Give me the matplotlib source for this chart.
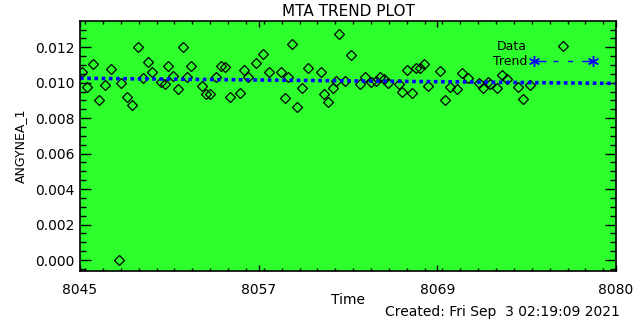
import numpy as np
import matplotlib
matplotlib.use('Agg')
import matplotlib.pyplot as plt
from matplotlib.ticker import FixedLocator, MultipleLocator

# data
time = [8045.15, 8045.48, 8045.87, 8046.26, 8046.65, 8047.04, 8047.57, 8047.70,
        8048.09, 8048.42, 8048.81, 8049.13, 8049.46, 8049.72, 8050.31, 8050.57,
        8050.77, 8051.09, 8051.42, 8051.75, 8052.01, 8052.27, 8052.99, 8053.25,
        8053.51, 8053.87, 8054.23, 8054.49, 8054.81, 8055.47, 8055.73, 8055.99,
        8056.51, 8056.97, 8057.36, 8058.14, 8058.41, 8058.60, 8058.86, 8059.19,
        8059.52, 8059.91, 8060.76, 8060.95, 8061.21, 8061.54, 8061.74, 8061.93,
        8062.32, 8062.68, 8063.30, 8063.63, 8064.02, 8064.35, 8064.61, 8064.87,
        8065.13, 8065.85, 8066.04, 8066.37, 8066.70, 8066.96, 8067.22, 8067.48,
        8067.74, 8068.53, 8068.85, 8069.18, 8069.64, 8069.96, 8070.36, 8071.07,
        8071.33, 8071.66, 8071.79, 8072.25, 8072.58, 8072.90, 8073.62, 8073.95,
        8074.40]
angynea = [0.01059, 0.00974, 0.01105, 0.00902, 0.00987, 0.01076, 0.00000, 0.00997,
           0.00918, 0.00873, 0.01200, 0.01025, 0.01115, 0.01059, 0.01002, 0.00991,
           0.01092, 0.01036, 0.00963, 0.01200, 0.01030, 0.01092, 0.00980, 0.00935,
           0.00935, 0.01030, 0.01092, 0.01087, 0.00918, 0.00940, 0.01070, 0.01030,
           0.01109, 0.01160, 0.01059, 0.01059, 0.00912, 0.01030, 0.01217, 0.00861,
           0.00968, 0.01081, 0.01059, 0.00935, 0.00889, 0.00968, 0.01008, 0.01273,
           0.01008, 0.01155, 0.00991, 0.01030, 0.01002, 0.01008, 0.01030, 0.01019,
           0.00997, 0.00991, 0.00946, 0.01070, 0.00940, 0.01081, 0.01081, 0.01104,
           0.00980, 0.01064, 0.00901, 0.00974, 0.00963, 0.01053, 0.01025, 0.00997,
           0.00968, 0.01002, 0.00991, 0.00968, 0.01042, 0.01019, 0.00974, 0.00906,
           0.00985]
trend_x = [8045, 8080]
trend_y = [0.01025, 0.00996]

xticks = [8045, 8045 + 35 / 3, 8045 + 70 / 3, 8080]
xtick_labels = ['8045', '8057', '8069', '8080']
yticks = [0.000, 0.002, 0.004, 0.006, 0.008, 0.010, 0.012]

green = '#2cff2c'

fig = plt.figure(figsize=(6.4, 3.2), dpi=100)
ax = fig.add_axes([80 / 640, 49 / 320, 536 / 640, 250 / 320])
ax.set_facecolor(green)

ax.plot(time, angynea, linestyle='none', marker='D', markersize=5.2,
        markerfacecolor='none', markeredgecolor='black', markeredgewidth=0.9)
ax.plot(trend_x, trend_y, color='blue', linestyle=(0, (1, 1)), linewidth=2.6)

ax.set_xlim(8045, 8080)
ax.set_ylim(-0.00062, 0.01348)

ax.xaxis.set_major_locator(FixedLocator(xticks))
ax.set_xticklabels(xtick_labels)
ax.xaxis.set_minor_locator(MultipleLocator(35 / 30))
ax.set_yticks(yticks)
ax.set_yticklabels([f'{v:.3f}' for v in yticks])
ax.yaxis.set_minor_locator(MultipleLocator(0.0005))

ax.tick_params(axis='y', which='major', direction='in', length=8, width=1,
               left=True, right=True, labelsize=10, pad=4)
ax.tick_params(axis='y', which='minor', direction='in', length=4.3, width=1,
               left=True, right=True)
ax.tick_params(axis='x', which='major', direction='in', length=4, width=1,
               top=True, bottom=True, labelsize=10, pad=9)
ax.tick_params(axis='x', which='minor', direction='in', length=2.2, width=1,
               top=True, bottom=True)
for s in ax.spines.values():
    s.set_linewidth(1.2)

ax.set_ylabel('ANGYNEA_1', fontsize=9, labelpad=6)
fig.text(348 / 640, 1 - 300 / 320, 'Time', fontsize=10, ha='center', va='center')
fig.text(620 / 640, 1 - 312 / 320, 'Created: Fri Sep  3 02:19:09 2021',
         fontsize=10, ha='right', va='center')
fig.text(348 / 640, 1 - 11 / 320, 'MTA TREND PLOT', fontsize=11,
         ha='center', va='center')

# legend drawn by hand like the IDL one
ax.text(0.834, 0.899, 'Data', transform=ax.transAxes, fontsize=9,
        ha='right', va='center')
ax.text(0.834, 0.839, 'Trend', transform=ax.transAxes, fontsize=9,
        ha='right', va='center')
ax.plot([0.901], [0.899], transform=ax.transAxes, marker='D', markersize=5.2,
        markerfacecolor='none', markeredgecolor='black', markeredgewidth=0.9)
ax.plot([0.847, 0.957], [0.839, 0.839], transform=ax.transAxes, color='blue',
        linestyle=(0, (8.6, 5, 3.6, 7, 3.6, 6.5, 8.2, 10)), linewidth=1)
ax.plot([0.847, 0.957], [0.839, 0.839], transform=ax.transAxes, color='blue',
        linestyle='none', marker=(6, 2, 0), markersize=8, markeredgewidth=1)

fig.savefig('out.png', dpi=100)
